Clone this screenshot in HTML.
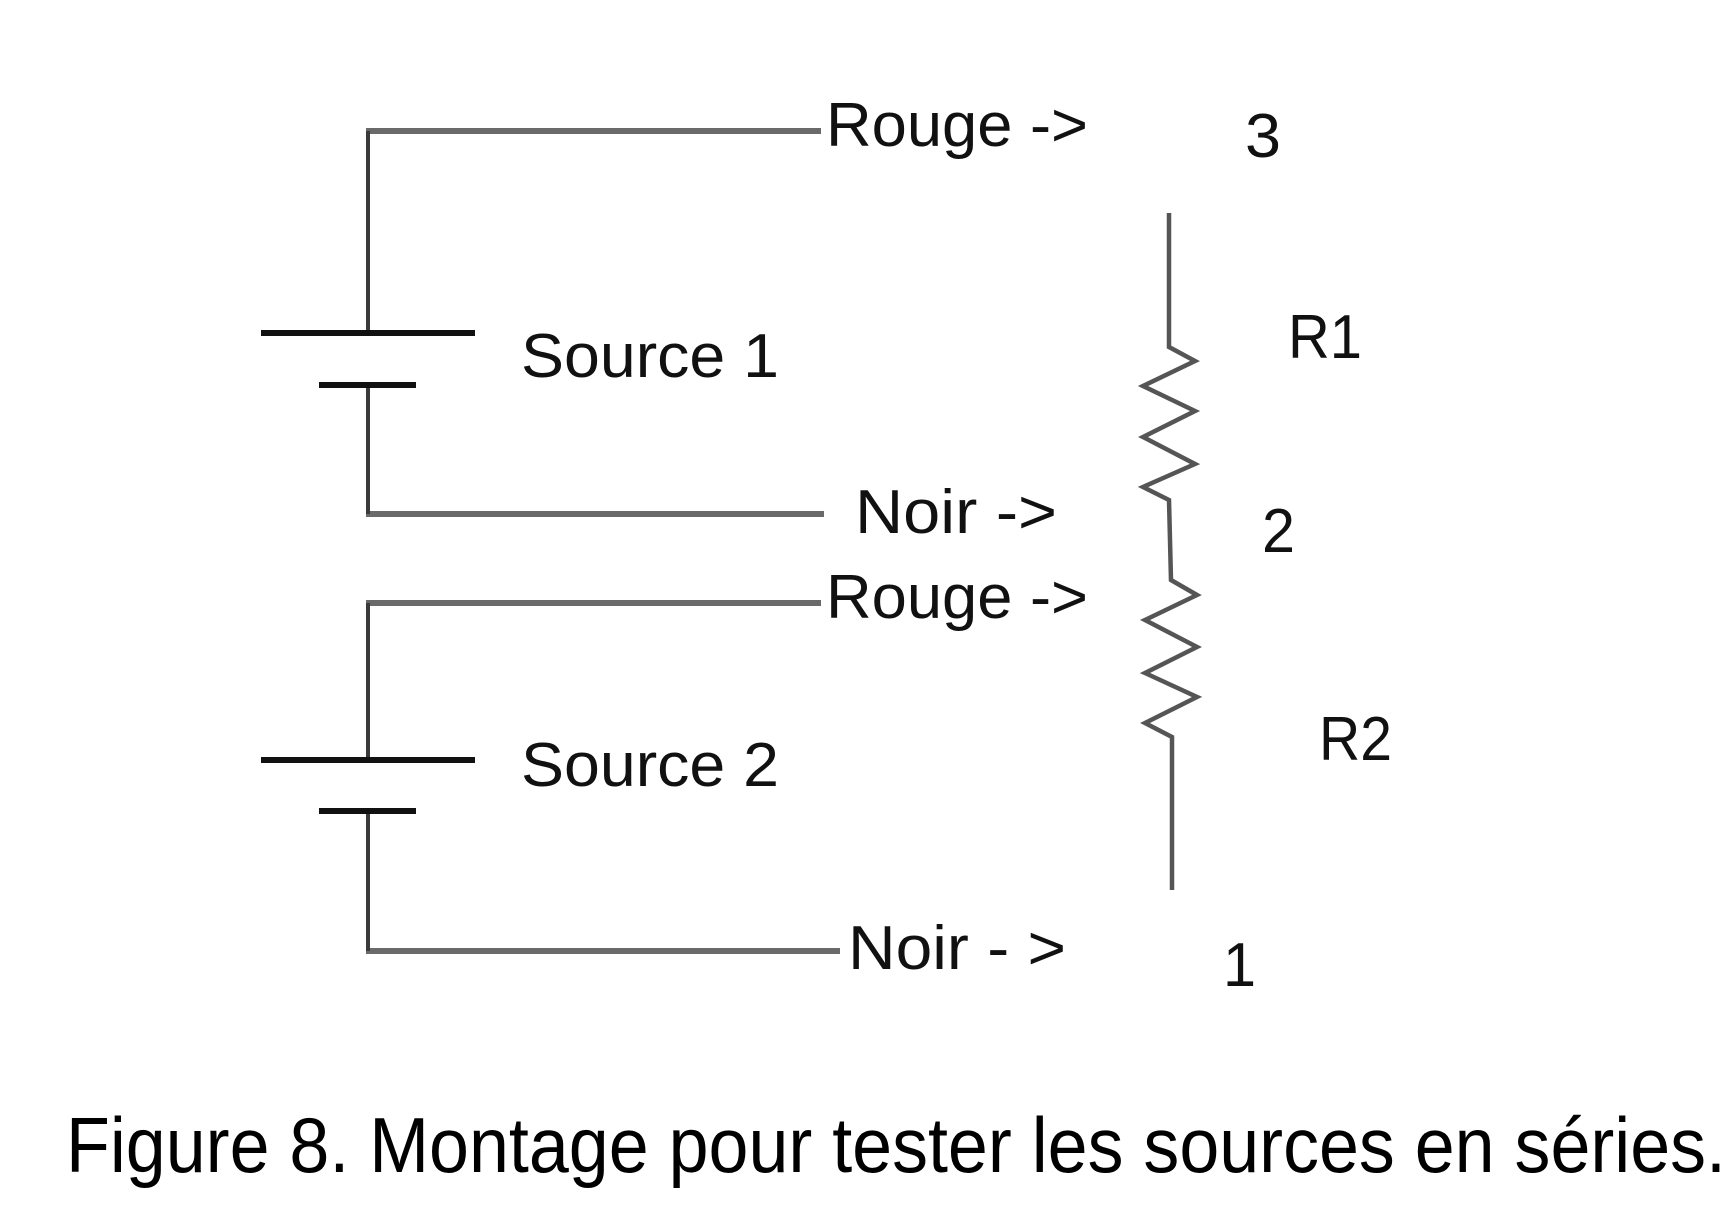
<!DOCTYPE html>
<html><head><meta charset="utf-8"><style>html,body{margin:0;padding:0;background:#fff}svg{display:block}</style></head>
<body>
<svg width="1731" height="1213" viewBox="0 0 1731 1213" xmlns="http://www.w3.org/2000/svg" font-family="'Liberation Sans', sans-serif">
<g stroke="#6a6a6a" stroke-width="6" fill="none">
<line x1="366" y1="131" x2="821" y2="131"/>
<line x1="366" y1="514" x2="824" y2="514"/>
<line x1="366" y1="603" x2="821" y2="603"/>
<line x1="366" y1="951" x2="840" y2="951"/>
</g>
<g stroke="#3a3a3a" stroke-width="4" fill="none">
<line x1="368" y1="131" x2="368" y2="333"/>
<line x1="368" y1="385" x2="368" y2="514"/>
<line x1="368" y1="603" x2="368" y2="760"/>
<line x1="368" y1="811" x2="368" y2="951"/>
</g>
<g stroke="#111" stroke-width="6">
<line x1="261" y1="333" x2="475" y2="333"/>
<line x1="319" y1="385" x2="416" y2="385"/>
<line x1="261" y1="760" x2="475" y2="760"/>
<line x1="319" y1="811" x2="416" y2="811"/>
</g>
<g stroke="#555" stroke-width="4.5" fill="none" stroke-linejoin="miter">
<polyline points="1169,213 1169,347 1195,361 1143,386 1195,411 1143,437 1195,464 1143,487 1169,500 1171,580 1197,595 1145,620 1197,647 1145,673 1197,697 1145,723 1172,737 1172,890"/>
</g>
<g fill="#111" font-size="62">
<text x="826" y="146" textLength="262" lengthAdjust="spacingAndGlyphs">Rouge -&gt;</text>
<text x="855" y="533" textLength="202" lengthAdjust="spacingAndGlyphs">Noir -&gt;</text>
<text x="826" y="618" textLength="262" lengthAdjust="spacingAndGlyphs">Rouge -&gt;</text>
<text x="848" y="969" textLength="218" lengthAdjust="spacingAndGlyphs">Noir - &gt;</text>
<text x="521" y="377" textLength="258" lengthAdjust="spacingAndGlyphs">Source 1</text>
<text x="521" y="786" textLength="258" lengthAdjust="spacingAndGlyphs">Source 2</text>
<text x="1245" y="157" textLength="36" lengthAdjust="spacingAndGlyphs">3</text>
<text x="1288" y="358" textLength="74" lengthAdjust="spacingAndGlyphs">R1</text>
<text x="1262" y="552" textLength="33" lengthAdjust="spacingAndGlyphs">2</text>
<text x="1319" y="760" textLength="73" lengthAdjust="spacingAndGlyphs">R2</text>
<text x="1223" y="986" textLength="33" lengthAdjust="spacingAndGlyphs">1</text>
</g>
<text x="66" y="1172" font-size="78" fill="#000" textLength="1660" lengthAdjust="spacingAndGlyphs">Figure 8. Montage pour tester les sources en séries.</text>
</svg>
</body></html>
